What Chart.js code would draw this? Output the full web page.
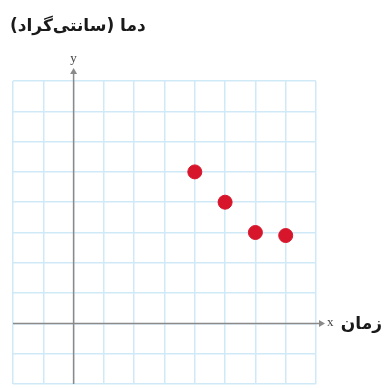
<!DOCTYPE html>
<html>
<head>
<meta charset="utf-8">
<script src="https://cdn.jsdelivr.net/npm/chart.js@4.4.0/dist/chart.umd.min.js"></script>
<style>
  html, body { margin: 0; padding: 0; background: #fff; }
  #wrap { width: 389px; height: 388px; position: relative; }
</style>
</head>
<body>
<div id="wrap"><canvas id="myChart"></canvas></div>
<script>
// زمان (x) و دما (y)
const timeValues = [4, 5, 6, 7];
const tempValues = [5, 4, 3, 2.9];
const axisMin = -2;
const axisMax = 8;

const titleText = "دما (سانتی‌گراد)";
const xAxisText = "زمان";

document.addEventListener("DOMContentLoaded", function() {

    const points = timeValues.map((t, i) => ({ x: t, y: tempValues[i] }));

    // draws the two axes with arrows and the labels
    const axesPlugin = {
        id: 'axesPlugin',
        afterDatasetsDraw(chart) {
            const ctx = chart.ctx;
            const xs = chart.scales.x;
            const ys = chart.scales.y;
            const area = chart.chartArea;
            const x0 = xs.getPixelForValue(0);
            const y0 = ys.getPixelForValue(0);

            ctx.save();
            ctx.strokeStyle = '#8a8a8a';
            ctx.fillStyle = '#8a8a8a';
            ctx.lineWidth = 1.5;

            // x axis
            ctx.beginPath();
            ctx.moveTo(area.left, y0);
            ctx.lineTo(area.right + 4, y0);
            ctx.stroke();
            ctx.beginPath();
            ctx.moveTo(area.right + 9, y0);
            ctx.lineTo(area.right + 3, y0 - 3.5);
            ctx.lineTo(area.right + 3, y0 + 3.5);
            ctx.closePath();
            ctx.fill();

            // y axis
            ctx.beginPath();
            ctx.moveTo(x0, area.bottom);
            ctx.lineTo(x0, area.top - 8);
            ctx.stroke();
            ctx.beginPath();
            ctx.moveTo(x0, area.top - 13);
            ctx.lineTo(x0 - 3.5, area.top - 7);
            ctx.lineTo(x0 + 3.5, area.top - 7);
            ctx.closePath();
            ctx.fill();

            // axis letters
            ctx.fillStyle = '#444';
            ctx.font = '13px "Liberation Serif"';
            ctx.textAlign = 'center';
            ctx.textBaseline = 'middle';
            ctx.fillText('y', x0, area.top - 22);
            ctx.textAlign = 'left';
            ctx.fillText('x', area.right + 11, y0 - 1);

            // Persian labels
            ctx.fillStyle = '#1a1a1a';
            ctx.direction = 'rtl';
            ctx.font = 'bold 17px "DejaVu Sans"';
            ctx.textAlign = 'right';
            ctx.fillText(xAxisText, chart.width - 7, y0 + 1);
            ctx.textAlign = 'left';
            ctx.fillText(titleText, 10, 27);
            ctx.restore();
        }
    };

    const ctx = document.getElementById('myChart');
    new Chart(ctx, {
        type: 'scatter',
        data: {
            datasets: [{
                label: 'دما',
                data: points,
                backgroundColor: '#d7162c',
                borderColor: '#d7162c',
                pointRadius: 7,
                pointHoverRadius: 7,
                clip: false
            }]
        },
        options: {
            responsive: true,
            maintainAspectRatio: false,
            animation: false,
            layout: {
                autoPadding: false,
                padding: { left: 13, top: 81, right: 73, bottom: 4 }
            },
            plugins: {
                legend: { display: false },
                tooltip: { enabled: false }
            },
            scales: {
                x: {
                    type: 'linear',
                    min: axisMin,
                    max: axisMax,
                    ticks: { display: false, stepSize: 1, padding: 0 },
                    grid: { color: '#cfe9f7', lineWidth: 1.5, drawTicks: false },
                    border: { display: false }
                },
                y: {
                    type: 'linear',
                    min: axisMin,
                    max: axisMax,
                    ticks: { display: false, stepSize: 1, padding: 0 },
                    grid: { color: '#cfe9f7', lineWidth: 1.5, drawTicks: false },
                    border: { display: false }
                }
            }
        },
        plugins: [axesPlugin]
    });
});
</script>
</body>
</html>
